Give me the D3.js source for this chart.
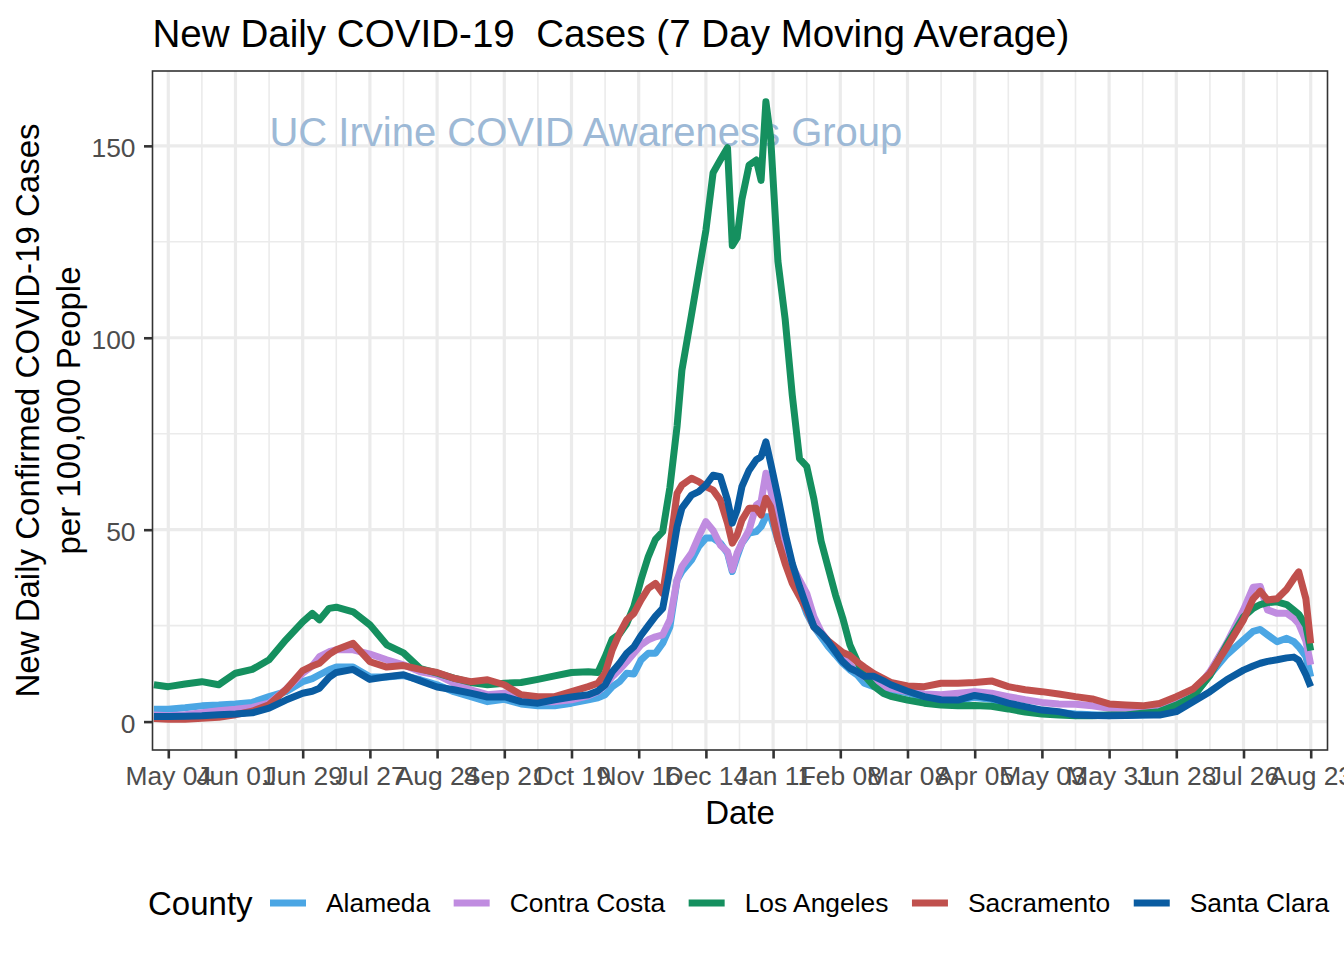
<!DOCTYPE html>
<html><head><meta charset="utf-8">
<script src="https://cdn.jsdelivr.net/npm/d3@7"></script>
<style>
body{margin:0;background:#fff}
text{font-family:"Liberation Sans",Arial,Helvetica,sans-serif}
</style>
</head><body>
<svg id="chart" width="1344" height="960"></svg>
<script>
// ---------------- DATA ----------------
const dates = [
"2020-04-28","2020-05-04","2020-05-11","2020-05-18","2020-05-25","2020-06-01","2020-06-08","2020-06-15","2020-06-22","2020-06-29",
"2020-07-03","2020-07-06","2020-07-10","2020-07-13","2020-07-20","2020-07-27","2020-08-03","2020-08-10","2020-08-17","2020-08-24",
"2020-08-31","2020-09-07","2020-09-14","2020-09-21","2020-09-28","2020-10-05","2020-10-12","2020-10-19","2020-10-26","2020-10-30",
"2020-11-02","2020-11-05","2020-11-08","2020-11-11","2020-11-14","2020-11-17","2020-11-20","2020-11-23","2020-11-26","2020-11-29",
"2020-12-02","2020-12-04","2020-12-08","2020-12-11","2020-12-14","2020-12-17","2020-12-20","2020-12-23","2020-12-25","2020-12-27",
"2020-12-29","2021-01-01","2021-01-04","2021-01-06","2021-01-08","2021-01-10","2021-01-13","2021-01-16","2021-01-19","2021-01-22",
"2021-01-25","2021-01-28","2021-01-31","2021-02-03","2021-02-06","2021-02-09","2021-02-12","2021-02-15","2021-02-18","2021-02-22",
"2021-02-26","2021-03-01",
"2021-03-08","2021-03-15","2021-03-22","2021-03-29","2021-04-05","2021-04-12","2021-04-19","2021-04-26","2021-05-03","2021-05-10",
"2021-05-17","2021-05-24","2021-05-31","2021-06-07","2021-06-14","2021-06-21","2021-06-28","2021-07-05","2021-07-12","2021-07-19",
"2021-07-26","2021-07-30","2021-08-02","2021-08-05","2021-08-09","2021-08-13","2021-08-16","2021-08-18","2021-08-21","2021-08-23"
];

const alameda = [
3.2,3.2,3.6,4.1,4.3,4.6,5.0,6.5,7.8,10.4,11.2,12.2,13.5,14.2,14.2,11.7,11.6,12.0,10.9,9.6,7.8,6.5,5.2,5.8,4.6,4.1,4.1,4.8,5.7,6.2,
7.0,9.1,10.4,12.6,12.4,16.1,17.8,17.8,20.4,24.7,36.9,39.1,42.1,45.6,47.8,47.8,46.5,43.9,39.1,43.0,46.5,49.1,49.5,50.8,53.4,53.4,
47.3,42.1,37.8,33.4,28.2,24.7,22.1,19.5,17.4,15.2,13.5,12.2,10.0,9.1,9.1,8.3,
7.5,6.3,5.5,5.5,6.3,5.8,4.6,3.7,2.9,2.4,2.0,1.8,1.6,1.6,1.7,1.9,3.0,6.5,12.2,17.4,21.3,23.5,24.0,22.6,20.8,21.7,20.8,19.5,17.0,11.7
];

const contraCosta = [
1.7,1.5,1.8,2.3,2.8,3.2,3.7,4.8,8.4,12.6,14.5,16.9,18.2,18.7,18.7,17.6,16.1,14.8,13.0,12.2,10.0,8.3,7.0,7.4,6.1,5.2,5.2,5.7,6.7,7.8,
9.5,11.7,13.5,15.6,17.8,20.0,21.3,22.1,22.6,26.5,36.9,40.4,43.9,48.2,52.1,49.8,46.0,44.3,39.5,43.9,46.5,49.9,56.4,57.3,64.7,60.3,
50.8,43.9,40.4,36.9,33.4,27.3,23.4,20.8,18.7,16.9,14.8,13.0,11.7,10.0,9.1,8.7,
7.8,7.2,7.0,7.4,7.8,7.4,6.5,5.7,5.0,4.6,4.5,4.1,3.5,2.8,2.6,3.0,4.8,7.4,13.0,20.4,29.1,35.0,35.2,29.1,28.2,28.2,26.9,25.5,21.0,14.8
];

const losAngeles = [
9.6,9.1,9.8,10.4,9.6,12.6,13.6,16.1,21.3,26.0,28.2,26.5,29.5,29.8,28.6,25.2,20.0,17.9,13.8,12.6,11.3,10.2,9.6,10.0,10.2,11.0,11.9,12.8,13.0,12.8,
16.9,21.5,22.8,25.5,30.0,37.0,43.0,47.5,49.5,61.0,77.0,91.5,106.0,117.0,128.0,143.0,146.3,149.5,124.0,126.0,136.0,145.0,146.3,141.0,161.5,152.0,
120.0,105.0,85.0,68.5,66.5,58.0,47.0,40.0,33.0,27.0,20.0,15.8,12.0,9.2,7.3,6.6,
5.6,4.8,4.3,4.1,4.2,4.0,3.3,2.5,2.0,1.7,1.5,1.5,1.7,1.7,2.2,2.6,4.3,6.5,12.0,20.0,27.3,29.5,30.5,31.0,31.2,30.5,29.0,28.0,25.0,18.5
];

const sacramento = [
0.8,0.6,0.6,0.9,1.1,1.8,2.7,4.4,8.3,13.3,14.5,15.2,17.5,18.7,20.4,15.6,14.2,14.6,13.6,12.8,11.3,10.4,10.9,9.6,7.0,6.5,6.5,7.8,9.1,10.0,
12.6,18.7,23.0,26.5,28.2,31.7,34.7,36.0,33.4,45.6,59.5,61.6,63.4,62.5,61.2,60.3,57.7,51.7,46.5,48.6,52.5,55.6,55.6,53.8,58.2,56.0,
47.3,41.2,36.0,32.6,29.1,24.7,23.0,21.0,19.5,18.0,17.2,15.6,14.2,12.5,11.2,10.2,
9.3,9.1,10.0,10.0,10.2,10.6,9.1,8.3,7.8,7.2,6.5,5.9,4.6,4.35,4.1,4.7,6.5,8.5,12.6,19.3,26.5,32.0,34.0,31.7,32.0,34.5,37.3,39.0,32.0,20.4
];

const santaClara = [
1.3,1.3,1.4,1.5,1.8,2.0,2.3,3.5,5.6,7.4,7.9,8.7,11.5,12.8,13.6,11.0,11.7,12.2,10.6,9.0,8.3,7.4,6.4,6.5,5.2,4.8,5.7,6.4,7.0,8.0,
9.5,13.0,15.2,17.8,19.5,22.5,25.0,27.5,29.5,39.5,50.8,55.6,59.0,59.9,61.6,64.2,63.8,57.7,51.7,55.1,61.2,65.5,68.2,69.0,72.9,67.3,
58.6,49.1,41.2,35.2,29.9,24.7,23.0,20.8,18.2,15.6,13.9,13.0,11.8,11.8,10.6,9.6,
7.9,6.5,5.7,5.6,6.8,6.1,4.8,3.9,3.0,2.6,1.7,1.6,1.5,1.6,1.7,1.7,2.6,5.2,7.8,10.9,13.4,14.5,15.2,15.7,16.1,16.6,16.8,16.0,12.2,9.1
];

const counties = ["Alameda","Contra Costa","Los Angeles","Sacramento","Santa Clara"];
const seriesValues = [alameda, contraCosta, losAngeles, sacramento, santaClara];
const countyColors = ["#4BA6E4","#C08CE0","#15905F","#C0504D","#0A5CA1"];

const xTickDates = ["2020-05-04","2020-06-01","2020-06-29","2020-07-27","2020-08-24","2020-09-21","2020-10-19","2020-11-16",
"2020-12-14","2021-01-11","2021-02-08","2021-03-08","2021-04-05","2021-05-03","2021-05-31","2021-06-28","2021-07-26","2021-08-23"];
const yTickValues = [0,50,100,150];
const yMinorValues = [25,75,125];

const titleText = "New Daily COVID-19  Cases (7 Day Moving Average)";
const xTitle = "Date";
const yTitleLines = ["New Daily Confirmed COVID-19 Cases","per 100,000 People"];
const legendTitle = "County";
const watermark = {text:"UC Irvine COVID Awareness Group", date:"2020-10-25", value:150};

// ---------------- LAYOUT ----------------
const parse = d3.utcParse("%Y-%m-%d");
const panel = {left:152.5, right:1327.5, top:71, bottom:750};
const svg = d3.select("#chart");
const FONT = "'Liberation Sans',Arial,sans-serif";

const x = d3.scaleUtc()
  .domain([new Date(Date.UTC(2020,3,27,10,5)), new Date(Date.UTC(2021,7,30,0,0))])
  .range([panel.left, panel.right]);
const y = d3.scaleLinear().domain([-7.4,169.5]).range([panel.bottom, panel.top]);

const tickDates = xTickDates.map(parse);
const minorDates = tickDates.map(t => d3.utcDay.offset(t,14))
  .filter(t => t > x.domain()[0] && t < x.domain()[1]);

svg.append("rect").attr("x",0).attr("y",0).attr("width",1344).attr("height",960).attr("fill","#fff");

// grid
const grid = svg.append("g");
grid.selectAll(".vminor").data(minorDates).join("line")
  .attr("x1",d=>x(d)).attr("x2",d=>x(d)).attr("y1",panel.top).attr("y2",panel.bottom)
  .attr("stroke","#EBEBEB").attr("stroke-width",1.6);
grid.selectAll(".hminor").data(yMinorValues).join("line")
  .attr("x1",panel.left).attr("x2",panel.right).attr("y1",d=>y(d)).attr("y2",d=>y(d))
  .attr("stroke","#EBEBEB").attr("stroke-width",1.6);
grid.selectAll(".vmajor").data(tickDates).join("line")
  .attr("x1",d=>x(d)).attr("x2",d=>x(d)).attr("y1",panel.top).attr("y2",panel.bottom)
  .attr("stroke","#EBEBEB").attr("stroke-width",3.2);
grid.selectAll(".hmajor").data(yTickValues).join("line")
  .attr("x1",panel.left).attr("x2",panel.right).attr("y1",d=>y(d)).attr("y2",d=>y(d))
  .attr("stroke","#EBEBEB").attr("stroke-width",3.2);

// watermark
svg.append("text")
  .attr("x", x(parse(watermark.date))).attr("y", y(watermark.value))
  .attr("text-anchor","middle").attr("font-size",40).attr("fill","#9DB9D6")
  .text(watermark.text);

// lines
const parsedDates = dates.map(parse);
const line = d3.line().x(d=>x(d.date)).y(d=>y(d.v));
const linesG = svg.append("g");
seriesValues.forEach((vals,i)=>{
  const pts = vals.map((v,j)=>({date:parsedDates[j], v}));
  linesG.append("path").attr("d", line(pts))
    .attr("fill","none").attr("stroke",countyColors[i]).attr("stroke-width",7)
    .attr("stroke-linejoin","round").attr("stroke-linecap","butt");
});

// panel border
svg.append("rect").attr("x",panel.left).attr("y",panel.top)
  .attr("width",panel.right-panel.left).attr("height",panel.bottom-panel.top)
  .attr("fill","none").attr("stroke","#333333").attr("stroke-width",1.6);

// axes
const xAxis = d3.axisBottom(x).tickValues(tickDates).tickFormat(d3.utcFormat("%b %d"))
  .tickSize(8.5).tickPadding(7.5);
const gx = svg.append("g").attr("transform",`translate(0,${panel.bottom})`).call(xAxis);
gx.select(".domain").remove();
gx.selectAll(".tick line").attr("stroke","#333333").attr("stroke-width",2.6);
gx.selectAll(".tick text").attr("font-size",26.4).attr("fill","#4D4D4D").attr("font-family",FONT);

const yAxis = d3.axisLeft(y).tickValues(yTickValues).tickFormat(d3.format("d"))
  .tickSize(8.5).tickPadding(8.5);
const gy = svg.append("g").attr("transform",`translate(${panel.left},0)`).call(yAxis);
gy.select(".domain").remove();
gy.selectAll(".tick line").attr("stroke","#333333").attr("stroke-width",2.6);
gy.selectAll(".tick text").attr("font-size",26.4).attr("fill","#4D4D4D").attr("dy","0.42em")
  .attr("font-family",FONT);

// titles
svg.append("text").attr("x",panel.left).attr("y",47).attr("font-size",38.6)
  .attr("fill","#000").style("white-space","pre").text(titleText);
svg.append("text").attr("x",(panel.left+panel.right)/2).attr("y",824)
  .attr("text-anchor","middle").attr("font-size",33).attr("fill","#000").text(xTitle);
const yMid = (panel.top+panel.bottom)/2;
[38.5, 80].forEach((bx,i)=>{
  svg.append("text").attr("transform",`translate(${bx},${yMid}) rotate(-90)`)
    .attr("text-anchor","middle").attr("font-size",33).attr("fill","#000").text(yTitleLines[i]);
});

// legend
const legY = 903;
const lg = svg.append("g");
lg.append("text").attr("x",148).attr("y",legY+11.8).attr("font-size",33).attr("fill","#000").text(legendTitle);
let cx = 270;
counties.forEach((c,i)=>{
  lg.append("line").attr("x1",cx).attr("x2",cx+36).attr("y1",legY).attr("y2",legY)
    .attr("stroke",countyColors[i]).attr("stroke-width",7);
  const t = lg.append("text").attr("x",cx+56).attr("y",legY+9.4).attr("font-size",26.4)
    .attr("fill","#000").text(c);
  cx = cx + 56 + t.node().getComputedTextLength() + 23.5;
});
</script>
</body></html>
